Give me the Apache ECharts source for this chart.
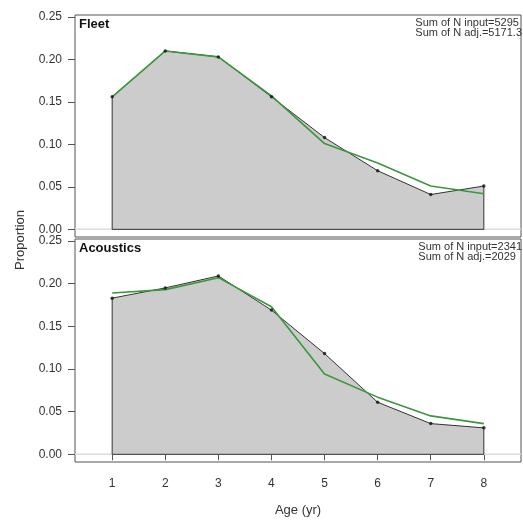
<!DOCTYPE html>
<html>
<head>
<meta charset="utf-8">
<script src="https://cdn.jsdelivr.net/npm/echarts@6/dist/echarts.min.js"></script>
<style>html,body{margin:0;padding:0;background:#fff}#c{width:523px;height:520px}</style>
</head>
<body>
<div id="c"></div>
<script>
const ages = [1, 2, 3, 4, 5, 6, 7, 8];
const fleetObs = [0.156, 0.210, 0.203, 0.156, 0.108, 0.069, 0.041, 0.051];
const fleetExp = [0.156, 0.210, 0.203, 0.157, 0.101, 0.078, 0.051, 0.042];
const acouObs = [0.183, 0.195, 0.209, 0.169, 0.118, 0.061, 0.036, 0.031];
const acouExp = [0.189, 0.193, 0.207, 0.173, 0.094, 0.067, 0.045, 0.036];
const yTicks = [0, 0.05, 0.10, 0.15, 0.20, 0.25];
const panelNames = ['Fleet', 'Acoustics'];
const sumInput = ['5295', '2341'];
const sumAdj = ['5171.3', '2029'];

const FONT = 'Liberation Sans, Arial, sans-serif';
const obsSets = [fleetObs, acouObs];
const expSets = [fleetExp, acouExp];
const gridsPx = [{top: 15, height: 222}, {top: 239, height: 223}];

const grids = [], xAxes = [], yAxes = [], series = [], graphics = [];
for (let i = 0; i < 2; i++) {
  grids.push({left: 75, width: 446, top: gridsPx[i].top, height: gridsPx[i].height,
    containLabel: false, outerBoundsMode: 'none',
    show: true, borderColor: '#555', borderWidth: 1, backgroundColor: 'transparent'});
  const bottom = i === 1;
  xAxes.push({gridIndex: i, type: 'value', min: 0.3, max: 8.7,
    axisLine: {show: false}, splitLine: {show: false},
    axisTick: {show: bottom, length: 6, customValues: ages, lineStyle: {color: '#555'}},
    axisLabel: {show: bottom, customValues: ages, margin: 16, fontSize: 12, color: '#333', fontFamily: FONT},
    name: bottom ? 'Age (yr)' : '', nameLocation: 'middle', nameGap: 42,
    nameTextStyle: {fontSize: 13, color: '#333', fontFamily: FONT}});
  yAxes.push({gridIndex: i, type: 'value', min: -0.009, max: 0.2523,
    axisLine: {show: false}, splitLine: {show: false},
    axisTick: {show: true, length: 7, customValues: yTicks, lineStyle: {color: '#555'}},
    axisLabel: {customValues: yTicks, formatter: v => v.toFixed(2), margin: 13, fontSize: 12, color: '#333', fontFamily: FONT}});
  const obs = obsSets[i], exp = expSets[i];
  const n = ages.length;
  // zero reference line
  series.push({type: 'line', xAxisIndex: i, yAxisIndex: i, data: [[0.3, 0], [8.7, 0]],
    symbol: 'none', silent: true, z: 1, lineStyle: {color: '#dcdcdc', width: 1.5}});
  // observed polygon
  const poly = [[ages[0], 0]].concat(ages.map((a, k) => [a, obs[k]])).concat([[ages[n - 1], 0], [ages[0], 0]]);
  series.push({type: 'line', xAxisIndex: i, yAxisIndex: i, data: poly, symbol: 'none', z: 2,
    lineStyle: {color: '#333', width: 1}, areaStyle: {color: '#cccccc', opacity: 1}});
  // expected line
  series.push({type: 'line', xAxisIndex: i, yAxisIndex: i, data: ages.map((a, k) => [a, exp[k]]),
    symbol: 'none', z: 3, lineStyle: {color: '#3c963c', width: 1.6}});
  // observed points
  series.push({type: 'scatter', xAxisIndex: i, yAxisIndex: i, data: ages.map((a, k) => [a, obs[k]]),
    symbol: 'circle', symbolSize: 3.5, z: 4, itemStyle: {color: '#111'}});
  const top = gridsPx[i].top;
  graphics.push({type: 'text', left: 79, top: top + 3,
    style: {text: panelNames[i], font: 'bold 13px ' + FONT, fill: '#111'}});
  graphics.push({type: 'text', right: 1, top: top + 2,
    style: {text: 'Sum of N input=' + sumInput[i] + '\nSum of N adj.=' + sumAdj[i],
      font: '11px ' + FONT, fill: '#333', align: 'right', lineHeight: 10}});
}
graphics.push({type: 'text', x: 14, y: 270, rotation: Math.PI / 2,
  style: {text: 'Proportion', font: '13px ' + FONT, fill: '#333'}});

const chart = echarts.init(document.getElementById('c'), null, {renderer: 'canvas'});
chart.setOption({animation: false, grid: grids, xAxis: xAxes, yAxis: yAxes, series: series, graphic: graphics});
</script>
</body>
</html>
